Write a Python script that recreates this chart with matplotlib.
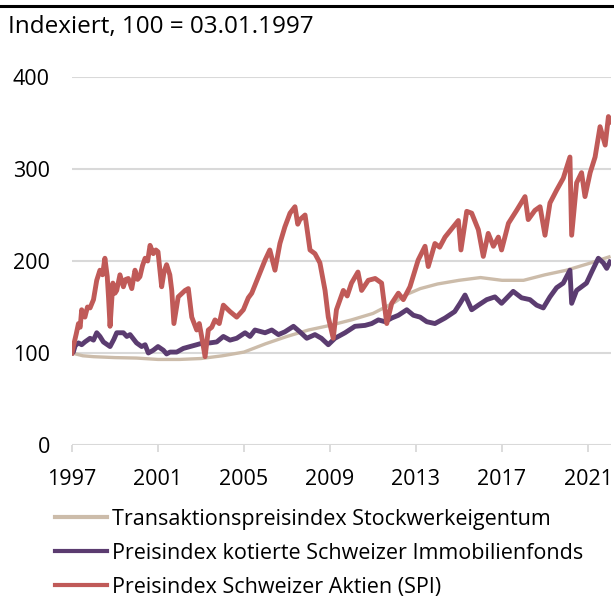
import matplotlib
matplotlib.use('Agg')
import matplotlib.pyplot as plt
from matplotlib.lines import Line2D

# Transaktionspreisindex Stockwerkeigentum
stwe_years = [1997.0, 1997.5, 1998.0, 1999.0, 2000.0, 2001.0, 2002.0, 2003.0, 2004.0,
              2005.0, 2006.0, 2007.0, 2008.0, 2009.0, 2010.0, 2011.0, 2012.0, 2012.5,
              2013.2, 2014.0, 2015.0, 2016.0, 2017.0, 2018.0, 2019.0, 2020.0, 2021.0, 2022.05]
stwe_values = [100, 97, 96, 95, 94.5, 93, 93, 94, 97,
               101, 110, 118, 125, 130, 136, 143, 155, 163,
               170, 175, 179, 182, 179, 179, 185, 190, 197, 205]

# Preisindex kotierte Schweizer Immobilienfonds
immo_years = [1997.00, 1997.06, 1997.15, 1997.30, 1997.45, 1997.60, 1997.84, 1998.00, 1998.15,
              1998.30, 1998.46, 1998.77, 1998.95, 1999.08, 1999.39, 1999.55, 1999.70, 2000.00,
              2000.24, 2000.40, 2000.55, 2000.78, 2001.00, 2001.25, 2001.40, 2001.56,
              2001.87, 2002.18, 2002.49, 2002.80, 2003.10, 2003.42, 2003.73, 2004.04, 2004.35,
              2004.66, 2005.05, 2005.28, 2005.51, 2005.98, 2006.29, 2006.60, 2006.90, 2007.30,
              2007.60, 2007.92, 2008.30, 2008.60, 2008.92, 2009.23, 2009.70, 2010.16, 2010.63,
              2010.94, 2011.25, 2011.56, 2011.87, 2012.18, 2012.57, 2012.88, 2013.19, 2013.50,
              2013.88, 2014.35, 2014.80, 2015.05, 2015.28, 2015.59, 2015.90, 2016.29, 2016.67,
              2016.98, 2017.52, 2017.91, 2018.30, 2018.61, 2018.92, 2019.23, 2019.54, 2019.85,
              2020.16, 2020.24, 2020.47, 2020.70, 2020.93, 2021.17, 2021.48, 2021.71, 2021.87,
              2022.02]
immo_values = [100, 101, 108, 111, 109, 112, 116, 114, 122,
               118, 112, 107, 115, 122, 122, 118, 120, 111,
               107, 109, 100, 103, 107, 103, 99, 101,
               101, 105, 107, 109, 111, 111, 112, 118, 114,
               116, 122, 118, 125, 122, 125, 120, 123, 129,
               123, 116, 120, 116, 109, 116, 122, 129, 130,
               132, 136, 134, 138, 141, 147, 141, 139, 134,
               132, 138, 145, 154, 163, 147, 152, 158, 161,
               154, 167, 160, 158, 152, 149, 161, 171, 176,
               190, 154, 168, 172, 176, 188, 203, 198, 192,
               199]

# Preisindex Schweizer Aktien (SPI)
spi_years = [1997.00, 1997.06, 1997.20, 1997.30, 1997.38, 1997.45, 1997.60, 1997.72, 1997.84,
             1998.00, 1998.15, 1998.30, 1998.42, 1998.53, 1998.64, 1998.70, 1998.77, 1998.90,
             1999.00, 1999.08, 1999.23, 1999.39, 1999.50, 1999.62, 1999.78, 1999.93, 2000.05,
             2000.16, 2000.28, 2000.40, 2000.52, 2000.63, 2000.78, 2000.90, 2001.00,
             2001.17, 2001.28, 2001.40, 2001.55, 2001.64, 2001.74, 2001.94, 2002.26, 2002.41,
             2002.57, 2002.80, 2002.92, 2003.03, 2003.19, 2003.34, 2003.50, 2003.65, 2003.85,
             2004.04, 2004.35, 2004.66, 2004.97, 2005.20, 2005.36, 2005.67, 2005.98, 2006.20,
             2006.44, 2006.67, 2006.90, 2007.14, 2007.37, 2007.50, 2007.60, 2007.84, 2007.95,
             2008.07, 2008.30, 2008.53, 2008.77, 2008.92, 2009.15, 2009.30, 2009.62, 2009.80,
             2010.00, 2010.30, 2010.47, 2010.78, 2011.10, 2011.40, 2011.64, 2011.87, 2012.18,
             2012.41, 2012.72, 2013.10, 2013.42, 2013.57, 2013.88, 2014.10, 2014.35, 2014.66,
             2014.97, 2015.09, 2015.36, 2015.59, 2015.90, 2016.13, 2016.36, 2016.60, 2016.83,
             2016.98, 2017.30, 2017.68, 2018.07, 2018.22, 2018.53, 2018.77, 2019.00, 2019.23,
             2019.54, 2019.85, 2020.16, 2020.24, 2020.47, 2020.70, 2020.86, 2021.10, 2021.33,
             2021.56, 2021.80, 2021.95, 2022.05]
spi_values = [100, 107, 121, 132, 128, 147, 139, 150, 149,
              158, 179, 190, 185, 203, 183, 160, 129, 176,
              165, 168, 185, 172, 180, 181, 170, 190, 180,
              183, 195, 203, 200, 217, 208, 212, 210,
              172, 188, 196, 185, 168, 132, 161, 168, 170,
              139, 125, 132, 118, 96, 125, 128, 136, 132,
              152, 145, 139, 147, 160, 165, 183, 201, 212,
              190, 219, 237, 252, 259, 240, 245, 250, 232,
              212, 208, 198, 168, 139, 116, 147, 168, 162,
              176, 188, 168, 179, 181, 176, 132, 154, 165,
              158, 172, 201, 216, 194, 219, 215, 226, 235,
              244, 212, 254, 252, 234, 205, 230, 216, 226,
              212, 241, 255, 270, 245, 255, 259, 228, 263,
              277, 290, 313, 228, 285, 296, 270, 296, 313,
              346, 326, 357, 351]

labels = ["Transaktionspreisindex Stockwerkeigentum",
          "Preisindex kotierte Schweizer Immobilienfonds",
          "Preisindex Schweizer Aktien (SPI)"]
colors = ["#ccbcaa", "#5b3c70", "#c05a58"]
x_ticks = [1997, 2001, 2005, 2009, 2013, 2017, 2021]
y_ticks = [0, 100, 200, 300, 400]

plt.rcParams['font.family'] = ['Open Sans', 'DejaVu Sans']
grid_col = "#d9d9d9"

fig = plt.figure(figsize=(6.14, 5.99), dpi=100)
ax = fig.add_axes([72 / 614, 154 / 599, 539 / 614, 368 / 599])

ax.plot(stwe_years, stwe_values, color=colors[0], lw=2.4, solid_capstyle='butt', zorder=3)
ax.plot(immo_years, immo_values, color=colors[1], lw=3.5, solid_joinstyle='round', zorder=4)
ax.plot(spi_years, spi_values, color=colors[2], lw=3.5, solid_joinstyle='round', zorder=5)

ax.set_xlim(1997, 1997 + 539 / 21.5)
ax.set_ylim(0, 400)
ax.set_xticks(x_ticks)
ax.set_yticks(y_ticks)
ax.set_xticklabels([str(t) for t in x_ticks])
for s in ax.spines.values():
    s.set_visible(False)
ax.yaxis.grid(True, color=grid_col, lw=1.5)
ax.set_axisbelow(True)
ax.tick_params(axis='x', length=5, width=1.3, color=grid_col, pad=12, labelsize=15.5)
ax.tick_params(axis='y', length=0, pad=16, labelsize=15.5)

# top rule and title
fig.add_artist(Line2D([0, 1], [1 - 6 / 599, 1 - 6 / 599], color='black', lw=2.2,
                      transform=fig.transFigure))
fig.text(8 / 614, 1 - 27 / 599, "Indexiert, 100 = 03.01.1997", fontsize=17.5,
         va='center', ha='left')

handles = [Line2D([], [], color=c, lw=3.0) for c in colors]
fig.legend(handles, labels, loc='upper left', bbox_to_anchor=(55 / 614, 1 - 509 / 599),
           frameon=False, fontsize=15.5, handlelength=2.4, handletextpad=0.25,
           labelspacing=0.6, borderaxespad=0, borderpad=0)

fig.savefig("out.png", dpi=100)
plt.close(fig)
